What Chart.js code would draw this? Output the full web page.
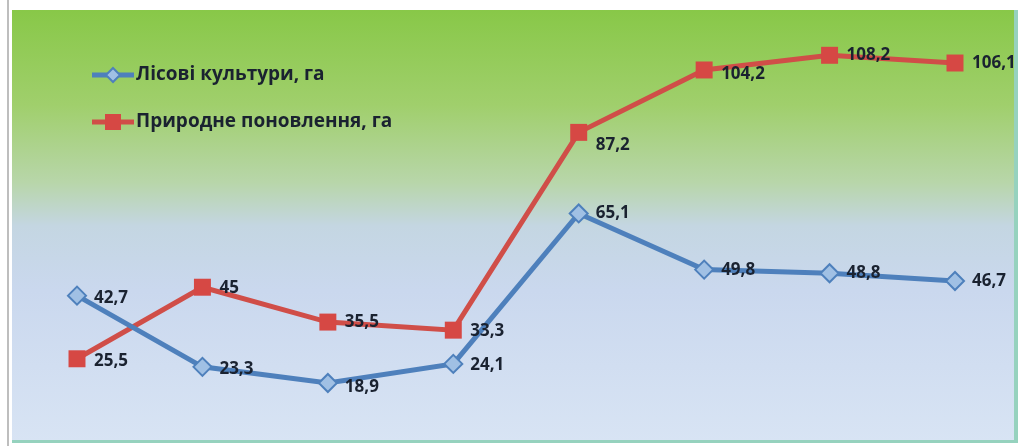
<!DOCTYPE html>
<html>
<head>
<meta charset="utf-8">
<script src="https://cdn.jsdelivr.net/npm/chart.js@4.4.1/dist/chart.umd.min.js"></script>
<style>
  html, body { margin: 0; padding: 0; background: #ffffff; }
  #wrap { width: 1025px; height: 446px; }
</style>
</head>
<body>
<div id="wrap"><canvas id="lineChart"></canvas></div>
<script>
const years = ['1', '2', '3', '4', '5', '6', '7', '8'];
const forestCrops = [42.7, 23.3, 18.9, 24.1, 65.1, 49.8, 48.8, 46.7];
const naturalRenewal = [25.5, 45, 35.5, 33.3, 87.2, 104.2, 108.2, 106.1];
const seriesNames = ['Лісові культури, га', 'Природне поновлення, га'];

const blue = 'rgb(78, 128, 188)';
const red = 'rgb(208, 78, 72)';

// small vertical nudges for a couple of value labels that would sit on the line
const labelShift = [
  [2, 2, 4, 1, 0, 1, 0, 0],
  [2, 1, 0, 1, 13, 4, 0, 0]
];

// panel behind the plot: green fading into pale blue
const panelPlugin = {
  id: 'panel',
  beforeDraw(chart) {
    const ctx = chart.ctx;
    ctx.save();
    ctx.fillStyle = '#ffffff';
    ctx.fillRect(0, 0, chart.width, chart.height);
    const g = ctx.createLinearGradient(0, 10, 0, 442);
    g.addColorStop(0, 'rgb(136, 200, 72)');
    g.addColorStop(0.22, 'rgb(160, 207, 108)');
    g.addColorStop(0.4, 'rgb(184, 214, 170)');
    g.addColorStop(0.5, 'rgb(196, 214, 226)');
    g.addColorStop(0.65, 'rgb(202, 216, 238)');
    g.addColorStop(1, 'rgb(216, 228, 244)');
    ctx.fillStyle = g;
    ctx.fillRect(12, 10, 1004, 432);
    // right and bottom edge
    ctx.fillStyle = 'rgb(150, 210, 190)';
    ctx.fillRect(1014, 10, 4, 432);
    ctx.fillRect(12, 440, 1006, 3);
    ctx.fillStyle = 'rgb(190, 190, 190)';
    ctx.fillRect(7, 0, 2, chart.height);
    ctx.restore();
  }
};

// value labels to the right of every point, and the legend in the top left
const labelPlugin = {
  id: 'valueLabels',
  afterDatasetsDraw(chart) {
    const ctx = chart.ctx;
    ctx.save();
    ctx.font = 'bold 17px "Open Sans", sans-serif';
    ctx.fillStyle = '#1a2230';
    ctx.textAlign = 'left';
    ctx.textBaseline = 'middle';
    chart.data.datasets.forEach((ds, i) => {
      chart.getDatasetMeta(i).data.forEach((pt, j) => {
        const txt = String(ds.data[j]).replace('.', ',');
        ctx.fillText(txt, pt.x + 17, pt.y + labelShift[i][j]);
      });
    });

    const rows = [75, 122];
    chart.data.datasets.forEach((ds, i) => {
      const y = rows[i];
      ctx.strokeStyle = ds.borderColor;
      ctx.lineWidth = 5;
      ctx.beginPath();
      ctx.moveTo(92, y);
      ctx.lineTo(134, y);
      ctx.stroke();
      if (i === 0) {
        ctx.beginPath();
        ctx.moveTo(113, y - 7);
        ctx.lineTo(120, y);
        ctx.lineTo(113, y + 7);
        ctx.lineTo(106, y);
        ctx.closePath();
        ctx.fillStyle = 'rgb(160, 192, 228)';
        ctx.fill();
        ctx.lineWidth = 2;
        ctx.stroke();
      } else {
        ctx.fillStyle = ds.pointBackgroundColor;
        ctx.fillRect(105, y - 8, 16, 16);
      }
      ctx.fillStyle = '#1a2230';
      ctx.font = 'bold 19px "Open Sans", sans-serif';
      ctx.fillText(ds.label, 136, y);
    });
    ctx.restore();
  }
};

new Chart(document.getElementById('lineChart'), {
  type: 'line',
  data: {
    labels: years,
    datasets: [
      {
        label: seriesNames[0],
        data: forestCrops,
        borderColor: blue,
        borderWidth: 5,
        pointStyle: 'rectRot',
        pointRadius: 9,
        pointBackgroundColor: 'rgb(160, 192, 228)',
        pointBorderColor: blue,
        pointBorderWidth: 2,
        tension: 0,
        clip: false
      },
      {
        label: seriesNames[1],
        data: naturalRenewal,
        borderColor: red,
        borderWidth: 5,
        pointStyle: 'rect',
        pointRadius: 12,
        pointBackgroundColor: 'rgb(214, 72, 68)',
        pointBorderColor: 'rgb(214, 72, 68)',
        pointBorderWidth: 0,
        tension: 0,
        clip: false
      }
    ]
  },
  options: {
    responsive: true,
    maintainAspectRatio: false,
    animation: false,
    layout: { padding: { left: 77, right: 70, top: 12, bottom: 12 } },
    plugins: {
      legend: { display: false },
      tooltip: { enabled: false }
    },
    scales: {
      x: { display: false, offset: false },
      y: { display: false, min: 5, max: 120 }
    }
  },
  plugins: [panelPlugin, labelPlugin]
});
</script>
</body>
</html>
